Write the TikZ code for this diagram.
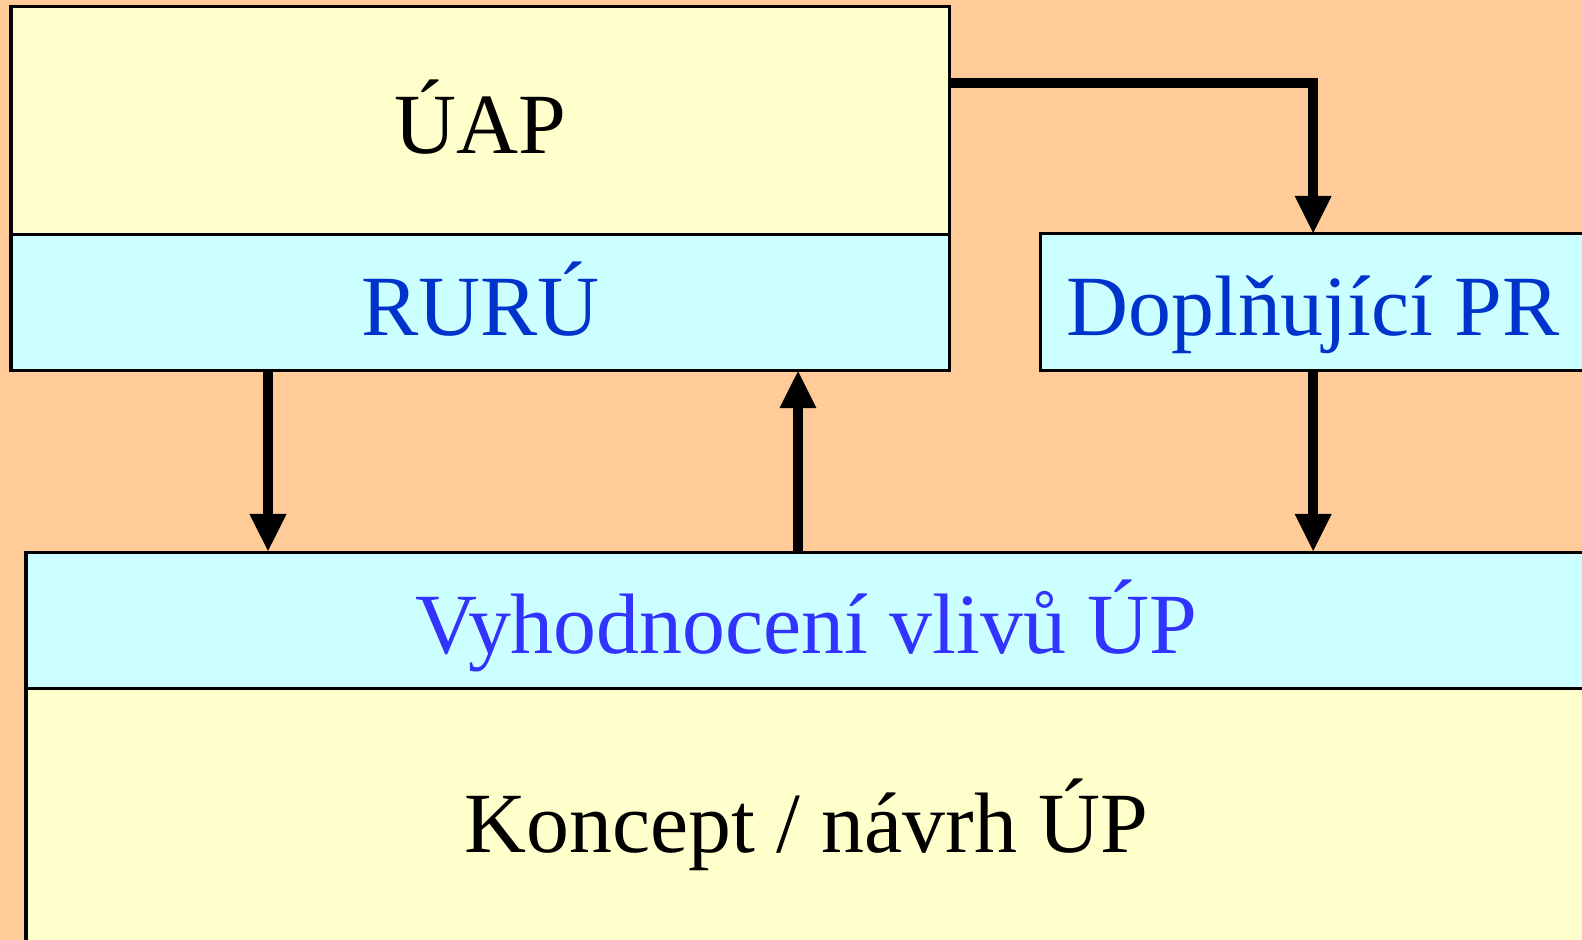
\documentclass[tikz,border=0pt]{standalone}
\usepackage{fontspec}
\setmainfont{Liberation Serif}
\usetikzlibrary{positioning,arrows.meta}
\definecolor{peach}{HTML}{FFCC99}
\definecolor{paleyellow}{HTML}{FFFFCC}
\definecolor{palecyan}{HTML}{CCFFFF}
\definecolor{darkblue}{HTML}{0033CC}
\definecolor{brightblue}{HTML}{3333FF}
\begin{document}
\begin{tikzpicture}[x=0.01cm,y=-0.01cm,
    box/.style={draw=black,line width=0.03cm,rectangle,outer sep=0pt,inner sep=0pt,
      font=\fontsize{24.4}{29}\selectfont,text height=22pt,text depth=3.2pt},
    yelbox/.style={box,fill=paleyellow,text=black},
    cynbox/.style={box,fill=palecyan,text=darkblue},
    flow/.style={line width=0.105cm,-{Triangle[width=0.34cm,length=0.38cm]}}]
    \useasboundingbox (0,0) rectangle (1582,940);
    \clip (0,0) rectangle (1582,940); % page edges cut the right and bottom boxes
    \fill[peach] (0,0) rectangle (1582,940);
    % upper left block
    \node[yelbox,anchor=north west,minimum width=9.38cm,minimum height=2.27cm] (uap) at (11,7) {ÚAP};
    \node[cynbox,below=0pt of uap,minimum width=9.38cm,minimum height=1.36cm] (ruru) {RURÚ};
    % right block
    \node[cynbox,anchor=north west,minimum width=5.46cm,minimum height=1.36cm] (dopl) at (1040,234) {Doplňující PR};
    % lower block
    \node[cynbox,text=brightblue,anchor=north west,minimum width=15.6cm,minimum height=1.36cm] (vyh) at (26,552) {Vyhodnocení vlivů ÚP};
    \node[yelbox,below=0pt of vyh,minimum width=15.6cm,minimum height=2.62cm] (koncept) {Koncept / návrh ÚP};
    % arrows
    \coordinate (bend) at (0,83);
    \coordinate (leftx) at (268,0);
    \coordinate (rightx) at (798,0);
    \draw[flow] (uap.east |- bend) -| (dopl.north);
    \draw[flow] (dopl.south) -- (dopl.south |- vyh.north);
    \draw[flow] (ruru.south -| leftx) -- (vyh.north -| leftx);
    \draw[flow] (vyh.north -| rightx) -- (ruru.south -| rightx);
\end{tikzpicture}
\end{document}
